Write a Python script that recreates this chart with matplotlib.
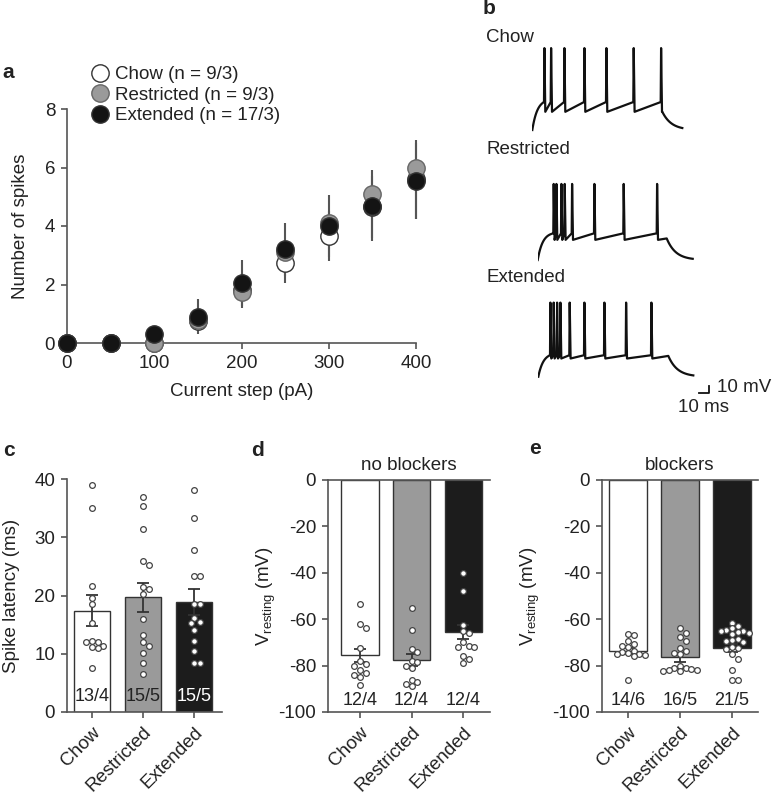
import numpy as np
import matplotlib
matplotlib.use('Agg')
import matplotlib.pyplot as plt

plt.rcParams['font.family'] = ['Liberation Sans', 'DejaVu Sans']
plt.rcParams['font.size'] = 13.5
plt.rcParams['axes.unicode_minus'] = False

# ---------------- data ----------------
groups = ['Chow', 'Restricted', 'Extended']
legend_labels = ['Chow (n = 9/3)', 'Restricted (n = 9/3)', 'Extended (n = 17/3)']

# a: number of spikes vs current step
current_pa = [0, 50, 100, 150, 200, 250, 300, 350, 400]
spikes_chow = [0, 0, 0, 0.75, 1.8, 2.75, 3.65, 4.65, 5.6]
spikes_restr = [0, 0, 0, 0.8, 1.75, 3.1, 4.1, 5.1, 6.0]
spikes_ext = [0, 0, 0.3, 0.9, 2.05, 3.2, 4.0, 4.7, 5.55]
sem_chow = [0, 0, 0, 0.35, 0.6, 0.7, 0.85, 1.05, 1.35]
sem_ext = [0, 0, 0, 0.6, 0.8, 0.9, 1.05, 1.2, 1.3]

# b: example traces (spike times in ms from trace start)
spk_times = [
    [11.7, 18.4, 31.7, 51.7, 73.7, 101.0, 128.4],
    [15.6, 18.3, 23.3, 26.6, 34.0, 56.3, 85.6, 119.0],
    [11.7, 15.0, 18.4, 21.7, 31.0, 45.7, 65.7, 87.4, 112.7],
]
step_off = [130, 129, 130]
trace_end = [150, 155, 155]
peak_mv = [46, 37, 34]
thr_mv = [-37, -39, -47]
ahp_mv = [-52, -49, -52]
rest_mv = -80
scale_ms = 10
scale_mv = 10

# c: spike latency (ms)
lat_chow = [39.0, 35.0, 21.7, 19.6, 18.6, 15.2, 12.2, 12.0, 12.0, 11.3, 11.1, 11.0, 7.6]
lat_restr = [36.9, 35.4, 31.4, 25.9, 25.3, 21.5, 21.2, 20.2, 16.0, 13.3, 12.0, 11.4, 10.1, 8.4, 6.5]
lat_ext = [38.1, 33.3, 27.8, 23.3, 23.3, 18.5, 18.5, 16.2, 15.5, 15.3, 14.0, 12.2, 10.4, 8.4, 8.4]
lat_mean = [17.4, 19.7, 18.9]
lat_sem = [2.7, 2.5, 2.2]
lat_n = ['13/4', '15/5', '15/5']

# d: resting potential, no blockers (mV)
vnb_chow = [-53.5, -62, -64, -72.5, -78, -79.5, -80, -82, -83, -84, -85, -88.5]
vnb_restr = [-55, -64.5, -73, -74, -78, -78.5, -80, -81, -86, -87, -88, -89]
vnb_ext = [-40, -48, -62.5, -65, -66, -70, -71.5, -72, -72, -76, -77, -79]
vnb_mean = [-75.5, -77.5, -65.5]
vnb_sem = [2.8, 2.6, 3.0]
vnb_n = ['12/4', '12/4', '12/4']

# e: resting potential, blockers (mV)
vb_chow = [-66.5, -67, -69.5, -70.5, -71.5, -72, -73.5, -74, -74.5, -75, -75, -75.5, -76, -86]
vb_restr = [-64, -66, -67.5, -69.5, -72.5, -73.5, -74.5, -75, -80, -81, -81, -81.5, -82, -82,
            -82.5, -82.5]
vb_ext = [-61.5, -63, -64, -64.5, -65, -65, -65.5, -66, -66.5, -68.5, -69, -69.5, -70, -72,
          -72.5, -73, -75, -77, -82, -86, -86]
vb_mean = [-73.5, -76.5, -72.5]
vb_sem = [1.3, 2.0, 1.8]
vb_n = ['14/6', '16/5', '21/5']

# ---------------- layout helpers ----------------
W, H = 774, 800
fig = plt.figure(figsize=(W / 100, H / 100), dpi=100)
ink = '#222222'
spine_col = '#555555'


def box(x0, y0, x1, y1):
    return [x0 / W, 1 - y1 / H, (x1 - x0) / W, (y1 - y0) / H]


def ftext(x, y, s, **kw):
    fig.text(x / W, 1 - y / H, s, color=ink, **kw)


def style(ax):
    for s in ['top', 'right']:
        ax.spines[s].set_visible(False)
    for s in ['left', 'bottom', 'top']:
        ax.spines[s].set_color(spine_col)
        ax.spines[s].set_linewidth(1.2)
    ax.tick_params(direction='out', length=4.5, width=1.2, color=spine_col,
                   labelcolor=ink, labelsize=13.5, pad=4)


def swarm(vals, px_x, px_y, d=5.6, half_w=18):
    # simple beeswarm: nearest free slot, squeezed into a fixed width
    placed, offs = [], []
    step = d * 0.5
    cands = [0.0]
    k = 1
    while k * step <= half_w:
        cands += [k * step, -k * step]
        k += 1
    for v in vals:
        y = v * px_y
        best, best_gap = 0.0, -1
        for c in cands:
            gap = min([np.hypot(c - px, y - py) for px, py in placed] + [99])
            if gap >= d:
                best = c
                break
            if gap > best_gap:
                best, best_gap = c, gap
        placed.append((best, y))
        offs.append(best / px_x)
    return offs


# ---------------- panel a ----------------
ax = fig.add_axes(box(67, 109, 416, 343))
style(ax)
ax.set_xlim(0, 400)
ax.set_ylim(0, 8)
ax.set_xticks([0, 100, 200, 300, 400])
ax.set_yticks([0, 2, 4, 6, 8])
ax.errorbar(current_pa, spikes_chow, yerr=sem_chow, fmt='none', ecolor='#555555', elinewidth=1.5,
            capsize=0, zorder=2, clip_on=False)
ax.errorbar(current_pa, spikes_ext, yerr=sem_ext, fmt='none', ecolor='#555555', elinewidth=1.5,
            capsize=0, zorder=2, clip_on=False)
mk = dict(ls='none', marker='o', ms=12.5, mew=1.0, clip_on=False, zorder=3)
ax.plot(current_pa, spikes_chow, mfc='white', mec='#333333', label=legend_labels[0], **mk)
ax.plot(current_pa, spikes_restr, mfc='#9a9a9a', mec='#666666', label=legend_labels[1], **mk)
ax.plot(current_pa, spikes_ext, mfc='#141414', mec='#333333', label=legend_labels[2], **mk)
ax.legend(loc='upper left', bbox_to_anchor=(92 / W, 1 - 66 / H), bbox_transform=fig.transFigure,
          frameon=False, handlelength=0.8, handletextpad=0.45, labelspacing=0.18, borderaxespad=0,
          borderpad=0, fontsize=13.5, labelcolor=ink)
ftext(242, 392, 'Current step (pA)', ha='center', va='center')
ftext(21, 226, 'Number of spikes', ha='center', va='center', rotation=90)
ftext(8, 72, 'a', ha='center', va='center', fontsize=15, fontweight='bold')

# ---------------- panel b ----------------
mpp = 10 / 6.5  # mV per pixel in the drawing
starts = [(532.3, 130), (537.7, 260), (538.3, 376.7)]
names_y = [37, 149, 277]
for i in range(3):
    sx, sy = starts[i]
    bx = fig.add_axes(box(sx, sy - 95, sx + 185, sy + 30))
    bx.set_xlim(0, 185)
    bx.set_ylim(rest_mv - 30 * mpp, rest_mv + 95 * mpp)
    bx.axis('off')
    spk = spk_times[i]
    t0 = np.linspace(0, spk[0], 25)
    v0 = rest_mv + (thr_mv[i] - rest_mv) * (1 - np.exp(-t0 / 5)) / (1 - np.exp(-spk[0] / 5))
    ts, vs = list(t0), list(v0)
    for j, s in enumerate(spk):
        ts += [s + 0.4, s + 1.3]
        vs += [peak_mv[i], ahp_mv[i]]
        if j + 1 < len(spk):
            ts.append(spk[j + 1])
            vs.append(thr_mv[i])
    v_off = ahp_mv[i] + 0.25 * (step_off[i] - spk[-1] - 1.3)
    ts.append(step_off[i])
    vs.append(v_off)
    t1 = np.linspace(step_off[i], trace_end[i], 30)[1:]
    ts += list(t1)
    vs += list(rest_mv + (v_off - rest_mv) * np.exp(-(t1 - step_off[i]) / 9))
    bx.plot(ts, vs, color='#111111', lw=1.6, solid_joinstyle='round')
    ftext(486, names_y[i], groups[i], ha='left', va='center')
    if i == 2:
        bar_t = 709 - sx
        bar_v = rest_mv - (392.5 - sy) * mpp
        bx.plot([bar_t - scale_ms, bar_t, bar_t], [bar_v, bar_v, bar_v + scale_mv],
                color='#111111', lw=1.3, clip_on=False)
ftext(717, 387, '10 mV', ha='left', va='center')
ftext(703, 407, '10 ms', ha='center', va='center')
ftext(489, 9, 'b', ha='center', va='center', fontsize=15, fontweight='bold')

# ---------------- bar panels ----------------
bar_cols = ['white', '#9a9a9a', '#1c1c1c']
n_cols = [ink, ink, 'white']


def bar_panel(rect, xlim, ylim, yticks, pts, means, sems, ns, n_y, negative):
    ax = fig.add_axes(box(*rect))
    style(ax)
    if negative:
        ax.spines['top'].set_visible(True)
    ax.set_xlim(*xlim)
    ax.set_ylim(*ylim)
    ax.set_yticks(yticks)
    ax.set_xticks(range(3))
    ax.set_xticklabels(groups, rotation=45, ha='right', rotation_mode='anchor')
    px_x = (rect[2] - rect[0]) / (xlim[1] - xlim[0])
    px_y = (rect[3] - rect[1]) / (ylim[1] - ylim[0])
    ax.bar(range(3), means, width=0.72, color=bar_cols, edgecolor='#333333', lw=1.0, zorder=2)
    ax.errorbar(range(3), means, yerr=sems, fmt='none', ecolor='#333333', elinewidth=1.3,
                capsize=4, capthick=1.3, zorder=2.5)
    for k in range(3):
        offs = swarm(pts[k], px_x, px_y)
        ax.scatter(np.array(offs) + k, pts[k], s=17, facecolor='white', edgecolor='#444444',
                   lw=0.9, zorder=3, clip_on=False)
        ax.text(k, n_y, ns[k], ha='center', va='center', color=n_cols[k] if not negative else ink,
                fontsize=13, zorder=4)
    return ax


# c
bar_panel((67, 479, 222, 712), (-0.49, 2.55), (0, 40), [0, 10, 20, 30, 40],
          [lat_chow, lat_restr, lat_ext], lat_mean, lat_sem, lat_n, 2.6, False)
ftext(12, 596, 'Spike latency (ms)', ha='center', va='center', rotation=90)
ftext(9, 450, 'c', ha='center', va='center', fontsize=15, fontweight='bold')

# d
axd = bar_panel((328, 480, 490, 712), (-0.62, 2.52), (-100, 0), [0, -20, -40, -60, -80, -100],
                [vnb_chow, vnb_restr, vnb_ext], vnb_mean, vnb_sem, vnb_n, -95, True)
axd.set_title('no blockers', fontsize=13.5, color=ink, pad=7)
ftext(266, 596, r'V$_\mathregular{resting}$ (mV)', ha='center', va='center', rotation=90)
ftext(258, 450, 'd', ha='center', va='center', fontsize=15, fontweight='bold')

# e
axe = bar_panel((602, 480, 758, 712), (-0.5, 2.5), (-100, 0), [0, -20, -40, -60, -80, -100],
                [vb_chow, vb_restr, vb_ext], vb_mean, vb_sem, vb_n, -95, True)
axe.set_title('blockers', fontsize=13.5, color=ink, pad=7)
ftext(530, 596, r'V$_\mathregular{resting}$ (mV)', ha='center', va='center', rotation=90)
ftext(535, 448, 'e', ha='center', va='center', fontsize=15, fontweight='bold')

fig.savefig('out.png', dpi=100)
